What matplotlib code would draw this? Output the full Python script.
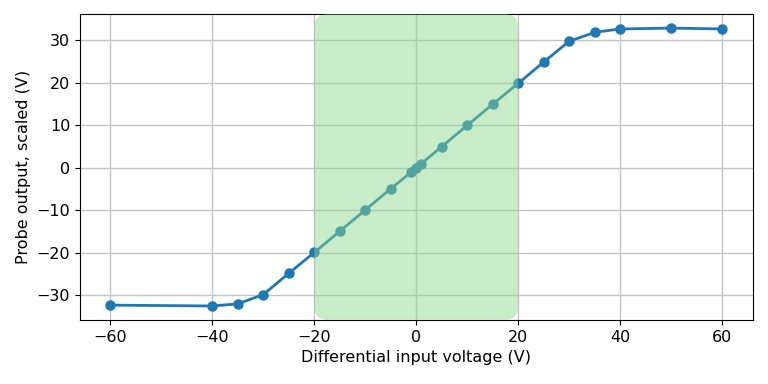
import numpy as np
import matplotlib.pyplot as plt
from matplotlib.patches import FancyBboxPatch

# measured probe response
v_in = [-60, -40, -35, -30, -25, -20, -15, -10, -5, -1, 0, 1, 5, 10, 15, 20, 25, 30, 35, 40, 50, 60]
v_out = [-32.3, -32.5, -32.0, -29.8, -24.8, -19.9, -14.9, -9.9, -4.9, -1.0, 0.0, 1.0, 5.0, 10.0,
         15.0, 19.9, 24.9, 29.8, 31.9, 32.7, 32.9, 32.7]
linear_range = (-20, 20)

plt.rcParams['font.size'] = 11.5

fig, ax = plt.subplots(figsize=(7.68, 3.84), dpi=100)
ax.plot(v_in, v_out, '-o', color='tab:blue', lw=2, ms=6.5)
ax.grid(True, color='#c4c4c4', lw=1)
ax.set_xlabel('Differential input voltage (V)')
ax.set_ylabel('Probe output, scaled (V)')

# shaded linear region with rounded corners
ylo, yhi = ax.get_ylim()
patch = FancyBboxPatch((linear_range[0], ylo), linear_range[1] - linear_range[0], yhi - ylo,
                       boxstyle='round,pad=0,rounding_size=2.6', mutation_aspect=1.2,
                       facecolor='#8cd88c', alpha=0.47, edgecolor='none', zorder=3)
ax.add_patch(patch)
ax.set_ylim(ylo, yhi)

fig.subplots_adjust(left=0.104, right=0.98, top=0.963, bottom=0.167)
fig.savefig('out.png')
